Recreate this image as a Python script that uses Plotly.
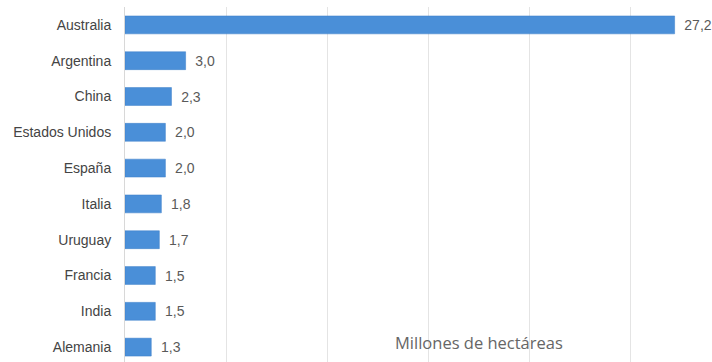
import plotly.graph_objects as go

paises = ["Australia", "Argentina", "China", "Estados Unidos", "España",
          "Italia", "Uruguay", "Francia", "India", "Alemania"]
hectareas = [27.2, 3.0, 2.3, 2.0, 2.0, 1.8, 1.7, 1.5, 1.5, 1.3]
etiquetas = ["27,2", "3,0", "2,3", "2,0", "2,0", "1,8", "1,7", "1,5", "1,5", "1,3"]
unidad = "Millones de hectáreas"

fig = go.Figure(go.Bar(
    x=hectareas, y=paises, orientation="h",
    marker=dict(color="#4a8fd8", line=dict(color="#3d7fc8", width=0.5)),
    width=0.5,
    text=etiquetas, texttemplate="\u00a0\u2009%{text}",
    textposition="outside", cliponaxis=False,
    textfont=dict(family="Liberation Sans, Arial", size=14, color="#5a5a5a"),
    hoverinfo="skip",
))

fig.update_layout(
    width=712, height=362,
    margin=dict(l=125, r=0, t=7, b=0),
    paper_bgcolor="white", plot_bgcolor="white",
    showlegend=False,
    separators=",.",
    xaxis=dict(range=[0, 29.05], dtick=5, showticklabels=False,
               showgrid=True, gridcolor="#e4e4e4", gridwidth=1,
               zeroline=False, showline=False),
    yaxis=dict(categoryorder="array", categoryarray=paises,
               range=[9.416, -0.5], showgrid=False,
               showline=True, linecolor="#d8d8d8", linewidth=1,
               ticks="", ticklabelstandoff=10,
               tickfont=dict(family="Liberation Sans, Arial", size=14, color="#444444")),
    annotations=[dict(text=unidad, xref="paper", yref="paper",
                      x=(479 - 125) / 587, y=(362 - 342) / 355,
                      xanchor="center", yanchor="middle", showarrow=False,
                      font=dict(family="Open Sans", size=16.5, color="#666666"))],
)

fig.write_html("out.html")
